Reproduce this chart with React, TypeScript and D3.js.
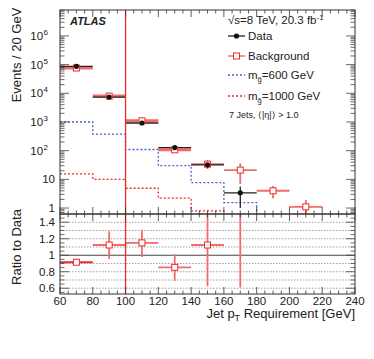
import React from 'react';
import * as d3 from 'd3';

// bin lower edges (GeV), each bin is 20 GeV wide
const binLo = [60, 80, 100, 120, 140, 160, 180, 200];
const binW = 20;

// data (bins 60..180)
const dataVals = [8.7e4, 7.4e3, 920, 128, 32, 3.4];
const dataErrUp = [400, 120, 40, 14, 7, 2.2];
const dataErrDn = [400, 120, 40, 14, 7, 2.4];

// background (bins 60..220)
const bkgVals = [7.6e4, 8.0e3, 1100, 107, 34, 21, 4.0, 1.1];
const bkgErrUp = [2000, 300, 60, 8, 13, 15, 1.9, 0.8];
const bkgErrDn = [2000, 300, 60, 8, 11, 14, 1.8, 0.6];

// signal templates
const sig600 = [1000, 380, 110, 30, 7.7, 1.55];
const sig1000 = [15.5, 10, 4.9, 2.2, 0.8];

// ratio background / data
const ratioVals = [0.915, 1.124, 1.15, 0.853, 1.124, 6.0];
const ratioErrUp = [0.035, 0.166, 0.16, 0.157, 0.6, 1.0];
const ratioErrDn = [0.035, 0.167, 0.17, 0.163, 0.5, 5.39];

const cutValue = 100;

const xTicks = [60, 80, 100, 120, 140, 160, 180, 200, 220, 240];
const logTicks = [1, 10, 100, 1e3, 1e4, 1e5, 1e6];
const ratioTicks = [0.6, 0.8, 1, 1.2, 1.4];

const W = 374;
const H = 359;
const left = 60;
const right = 355;
const top = 10;
const mid = 214;
const bottom = 294;

const RED = '#ee2a2a';
const RED_L = '#f46a6a';
const BLUE = '#4a62c8';
const FONT = '"Liberation Sans", Arial, Helvetica, sans-serif';

const App = () => {
  const x = d3.scaleLinear().domain([60, 240]).range([left, right]);
  const y = d3.scaleLog().domain([0.62, 8e6]).range([mid, top]).clamp(true);
  const r = d3.scaleLinear().domain([0.53, 1.5]).range([bottom, mid]);

  const stepPath = (vals: number[]) => {
    const pts: [number, number][] = [];
    vals.forEach((v, i) => {
      pts.push([x(binLo[i]), y(v)]);
      pts.push([x(binLo[i] + binW), y(v)]);
    });
    pts.push([x(binLo[vals.length - 1] + binW), mid]);
    return d3.line()(pts) as string;
  };

  // minor ticks
  const xMinor = d3.range(60, 241, 5);
  const logMinor: number[] = [];
  for (let e = -1; e <= 6; e++) {
    for (let k = 1; k <= 9; k++) {
      const v = k * Math.pow(10, e);
      if (v >= 0.62 && v <= 8e6) logMinor.push(v);
    }
  }
  const ratioMinor = d3.range(0.55, 1.5, 0.05);
  const ratioGrid = d3.range(0.6, 1.45, 0.1).filter(v => Math.abs(v - 1) > 0.01);

  const txt = { fontFamily: FONT, fill: '#222' };

  return (
    <svg width={W} height={H} style={{ position: 'absolute', left: 0, top: 0, background: '#fff' }}>
      <defs>
        <clipPath id="upClip"><rect x={left} y={top} width={right - left} height={mid - top} /></clipPath>
        <clipPath id="loClip"><rect x={left} y={mid} width={right - left} height={bottom - mid} /></clipPath>
      </defs>

      {/* ratio grid */}
      {ratioGrid.map(v => (
        <line key={'g' + v} x1={left} x2={right} y1={r(v)} y2={r(v)} stroke="#888" strokeWidth={0.8} strokeDasharray="1.5,1.5" />
      ))}
      <line x1={left} x2={right} y1={r(1)} y2={r(1)} stroke="#444" strokeWidth={1} />

      {/* upper panel: signals */}
      <g clipPath="url(#upClip)">
        <path d={stepPath(sig600)} fill="none" stroke={BLUE} strokeWidth={1.3} strokeDasharray="2,2" />
        <path d={stepPath(sig1000)} fill="none" stroke={RED} strokeWidth={1.3} strokeDasharray="2,2" />

        {/* background */}
        {bkgVals.map((v, i) => {
          const cx = x(binLo[i] + binW / 2);
          return (
            <g key={'b' + i}>
              <line x1={x(binLo[i])} x2={x(binLo[i] + binW)} y1={y(v)} y2={y(v)} stroke={RED_L} strokeWidth={i < 4 ? 3 : 1.8} />
              <line x1={cx} x2={cx} y1={y(v + bkgErrUp[i])} y2={y(Math.max(v - bkgErrDn[i], 0.01))} stroke={RED_L} strokeWidth={1.8} />
            </g>
          );
        })}

        {/* data */}
        {dataVals.map((v, i) => {
          const cx = x(binLo[i] + binW / 2);
          return (
            <g key={'d' + i}>
              <line x1={x(binLo[i])} x2={x(binLo[i] + binW)} y1={y(v)} y2={y(v)} stroke="#222" strokeWidth={1.3} />
              <line x1={cx} x2={cx} y1={y(v + dataErrUp[i])} y2={y(Math.max(v - dataErrDn[i], 0.01))} stroke="#222" strokeWidth={1.3} />
            </g>
          );
        })}
        {bkgVals.map((v, i) => (
          <rect key={'bs' + i} x={x(binLo[i] + binW / 2) - 3} y={y(v) - 3} width={6} height={6} fill="#fff" stroke={RED} strokeWidth={1} />
        ))}
        {dataVals.map((v, i) => (
          <circle key={'dc' + i} cx={x(binLo[i] + binW / 2)} cy={y(v)} r={2.6} fill="#111" />
        ))}
      </g>

      {/* lower panel: ratio */}
      <g clipPath="url(#loClip)">
        {ratioVals.map((v, i) => {
          const cx = x(binLo[i] + binW / 2);
          return (
            <g key={'r' + i}>
              <line x1={x(binLo[i])} x2={x(binLo[i] + binW)} y1={r(v)} y2={r(v)} stroke={i === 0 ? RED : RED_L} strokeWidth={1.8} />
              <line x1={cx} x2={cx} y1={r(v + ratioErrUp[i])} y2={r(v - ratioErrDn[i])} stroke={RED_L} strokeWidth={1.8} />
              <rect x={cx - 3} y={r(v) - 3} width={6} height={6} fill="#fff" stroke={RED} strokeWidth={1} />
            </g>
          );
        })}
      </g>

      {/* cut line */}
      <line x1={x(cutValue)} x2={x(cutValue)} y1={top} y2={bottom} stroke={RED} strokeWidth={1.3} />

      {/* frames */}
      <rect x={left} y={top} width={right - left} height={mid - top} fill="none" stroke="#333" strokeWidth={1} />
      <rect x={left} y={mid} width={right - left} height={bottom - mid} fill="none" stroke="#333" strokeWidth={1} />

      {/* x ticks */}
      {xMinor.map(v => {
        const major = v % 20 === 0;
        const l = major ? 7 : 3.5;
        const xx = x(v);
        return (
          <g key={'xt' + v} stroke="#333" strokeWidth={0.8}>
            <line x1={xx} x2={xx} y1={top} y2={top + l} />
            <line x1={xx} x2={xx} y1={mid} y2={mid - l} />
            <line x1={xx} x2={xx} y1={mid} y2={mid + l} />
            <line x1={xx} x2={xx} y1={bottom} y2={bottom - l} />
          </g>
        );
      })}

      {/* log y ticks */}
      {logMinor.map(v => {
        const major = logTicks.includes(v);
        const l = major ? 9 : 4.5;
        const yy = y(v);
        return (
          <g key={'yt' + v} stroke="#444" strokeWidth={0.8}>
            <line x1={left} x2={left + l} y1={yy} y2={yy} />
            <line x1={right} x2={right - l} y1={yy} y2={yy} />
          </g>
        );
      })}

      {/* ratio y ticks */}
      {ratioMinor.map(v => {
        const major = ratioTicks.some(t => Math.abs(t - v) < 0.001);
        const l = major ? 9 : 4.5;
        const yy = r(v);
        return (
          <g key={'rt' + v} stroke="#444" strokeWidth={0.8}>
            <line x1={left} x2={left + l} y1={yy} y2={yy} />
            <line x1={right} x2={right - l} y1={yy} y2={yy} />
          </g>
        );
      })}

      {/* tick labels */}
      {logTicks.map(v => {
        const e = Math.round(Math.log10(v));
        const yy = y(v) + 4;
        return (
          <text key={'yl' + v} x={e >= 2 ? left - 12 : left - 5} y={yy} textAnchor="end" fontSize={11.5} {...txt}>
            {e === 0 ? '1' : '10'}
            {e >= 2 && <tspan dx={0.5} dy={-5} fontSize={8}>{e}</tspan>}
          </text>
        );
      })}
      {ratioTicks.map(v => (
        <text key={'rl' + v} x={left - 5} y={r(v) + 4} textAnchor="end" fontSize={11.5} {...txt}>{String(v)}</text>
      ))}
      {xTicks.map(v => (
        <text key={'xl' + v} x={x(v)} y={305} textAnchor="middle" fontSize={11.5} {...txt}>{v}</text>
      ))}

      {/* axis titles */}
      <text transform="translate(21,55) rotate(-90)" textAnchor="middle" fontSize={13} {...txt}>Events / 20 GeV</text>
      <text transform="translate(21,247) rotate(-90)" textAnchor="middle" fontSize={13} {...txt}>Ratio to Data</text>
      <text x={right} y={318} textAnchor="end" fontSize={13} {...txt}>
        Jet p<tspan dy={3} fontSize={9}>T</tspan><tspan dy={-3}> Requirement [GeV]</tspan>
      </text>

      {/* labels */}
      <text x={70} y={25} fontSize={11} fontWeight="bold" fontStyle="italic" {...txt}>ATLAS</text>
      <text x={228} y={24} fontSize={11.5} {...txt}>
        √s=8 TeV,  20.3 fb<tspan dy={-4} fontSize={8}>-1</tspan>
      </text>

      {/* legend */}
      <g>
        <line x1={228} x2={245} y1={36} y2={36} stroke="#222" strokeWidth={1.3} />
        <circle cx={236.5} cy={36} r={2.6} fill="#111" />
        <text x={248} y={40} fontSize={11.5} {...txt}>Data</text>

        <line x1={228} x2={245} y1={56} y2={56} stroke={RED} strokeWidth={1} />
        <rect x={233.5} y={53} width={6} height={6} fill="#fff" stroke={RED} strokeWidth={1} />
        <text x={248} y={60} fontSize={11.5} {...txt}>Background</text>

        <line x1={228} x2={245} y1={75} y2={75} stroke={BLUE} strokeWidth={1.3} strokeDasharray="2,2" />
        <text x={248} y={79} fontSize={11.5} {...txt}>m<tspan dy={3} fontSize={7.5}>g̃</tspan><tspan dy={-3}>=600 GeV</tspan></text>

        <line x1={228} x2={245} y1={96} y2={96} stroke={RED} strokeWidth={1.3} strokeDasharray="2,2" />
        <text x={248} y={100} fontSize={11.5} {...txt}>m<tspan dy={3} fontSize={7.5}>g̃</tspan><tspan dy={-3}>=1000 GeV</tspan></text>

        <text x={229} y={118} fontSize={9} {...txt}>7 Jets, ⟨|η|⟩ &gt; 1.0</text>
      </g>
    </svg>
  );
};

export default App;
